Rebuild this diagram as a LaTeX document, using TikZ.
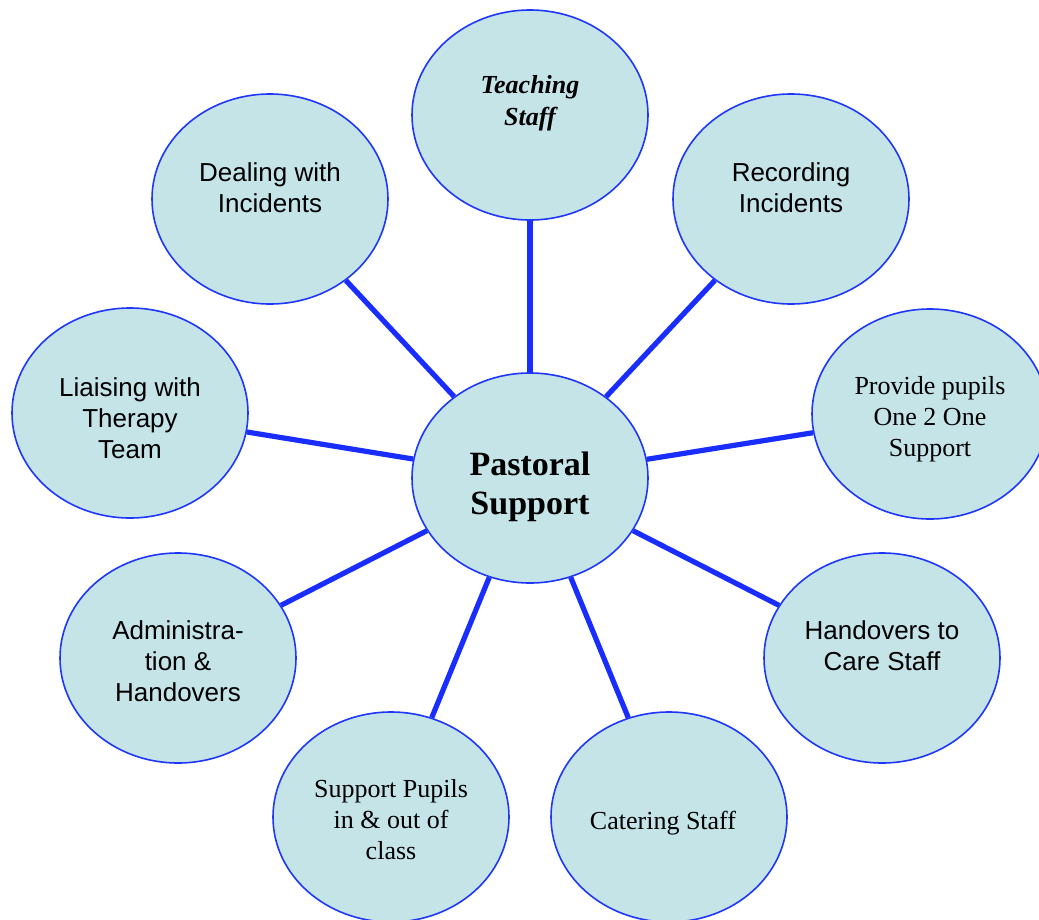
\documentclass[tikz,border=0pt]{standalone}
\usepackage{fontspec}
\setmainfont{Liberation Serif}
\setsansfont{Liberation Sans}
\usetikzlibrary{shapes.geometric}
\definecolor{bubblefill}{RGB}{197,228,232}
\definecolor{bubbleline}{RGB}{30,55,250}
\definecolor{spoke}{RGB}{25,45,255}

\begin{document}
\begin{tikzpicture}[x=1pt,y=1pt,
    bubble/.style={ellipse, draw=bubbleline, fill=bubblefill, line width=1.6pt,
      minimum width=236pt, minimum height=210pt, inner sep=0pt},
    sans/.style={align=center, font=\sffamily\fontsize{26}{31}\selectfont},
    serif/.style={align=center, font=\rmfamily\fontsize{26}{31}\selectfont},
    spokeline/.style={draw=spoke, line width=5.2pt}]
    \useasboundingbox (0,0) rectangle (1039,-919);
    % hub
    \node[bubble, label={[align=center, yshift=-9pt, font=\rmfamily\bfseries\fontsize{34}{39}\selectfont]center:{Pastoral\\Support}}] (hub) at (530,-478) {};
    % ring of bubbles
    \node[bubble, label={[align=center, yshift=12pt, font=\rmfamily\bfseries\itshape\fontsize{26}{32}\selectfont]center:{Teaching\\Staff}}] (teach) at (530,-115) {};
    \node[bubble, label={[sans, yshift=11.5pt]center:{Dealing with\\Incidents}}] (deal) at (270,-199) {};
    \node[bubble, label={[sans, yshift=11.5pt]center:{Recording\\Incidents}}] (record) at (791,-199) {};
    \node[bubble, label={[sans, yshift=-5.5pt]center:{Liaising with\\Therapy\\Team}}] (liaise) at (130,-413) {};
    \node[bubble, label={[serif, yshift=-5.4pt]center:{Provide pupils\\One 2 One\\Support}}] (provide) at (930,-414) {};
    \node[bubble, label={[sans, yshift=-3.5pt]center:{Administra-\\tion \&\\Handovers}}] (admin) at (178,-658) {};
    \node[bubble, label={[sans, yshift=12.5pt]center:{Handovers to\\Care Staff}}] (handover) at (882,-658) {};
    \node[bubble, label={[serif, yshift=-3pt]center:{Support Pupils\\in \& out of\\class}}] (pupils) at (391,-817) {};
    \node[bubble, label={[serif, yshift=-6pt, xshift=-6pt]center:{Catering Staff}}] (cater) at (669,-817) {};
    % spokes
    \foreach \n in {teach,deal,record,liaise,provide,admin,handover,pupils,cater}
      \path[spokeline] (hub) -- (\n);
  \end{tikzpicture}
\end{document}
